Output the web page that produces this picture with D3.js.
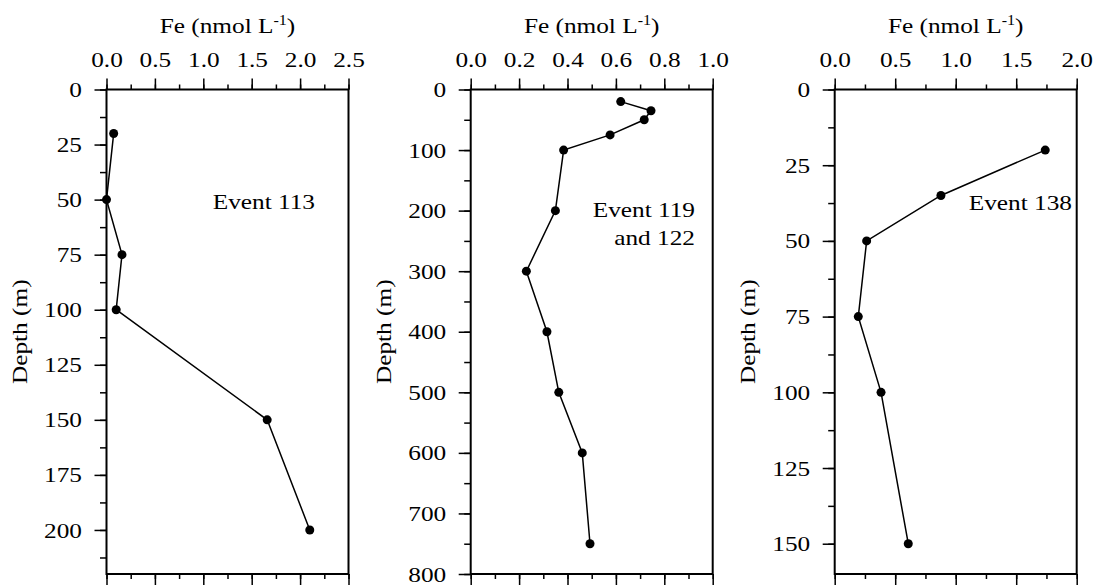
<!DOCTYPE html>
<html>
<head>
<meta charset="utf-8">
<script src="https://cdn.jsdelivr.net/npm/d3@7"></script>
<style>
  body { margin: 0; background: #fff; }
  svg { display: block; }
  text { font-family: "Liberation Serif", "Times New Roman", serif; fill: #000; }
  .tick line { stroke: #000; stroke-width: 1.5; }
</style>
</head>
<body>
<svg id="chart" width="1097" height="585"></svg>
<script>
// Event 113
var depth113 = [20, 50, 75, 100, 150, 200];
var fe113    = [0.074, 0.0, 0.16, 0.10, 1.66, 2.10];

// Event 119 and 122
var depth119 = [20, 35, 50, 75, 100, 200, 300, 400, 500, 600, 750];
var fe119    = [0.62, 0.745, 0.717, 0.576, 0.384, 0.35, 0.23, 0.315, 0.364, 0.461, 0.493];

// Event 138
var depth138 = [20, 35, 50, 75, 100, 150];
var fe138    = [1.74, 0.878, 0.264, 0.195, 0.383, 0.608];

var xTicks113 = [0, 0.5, 1.0, 1.5, 2.0, 2.5];
var yTicks113 = [0, 25, 50, 75, 100, 125, 150, 175, 200];
var xTicks119 = [0, 0.2, 0.4, 0.6, 0.8, 1.0];
var yTicks119 = [0, 100, 200, 300, 400, 500, 600, 700, 800];
var xTicks138 = [0, 0.5, 1.0, 1.5, 2.0];
var yTicks138 = [0, 25, 50, 75, 100, 125, 150];

var panels = [
  {fe: fe113, depth: depth113, xMax: 2.5, yMax: 220, xTicks: xTicks113, yTicks: yTicks113,
   xMinor: 0.25, yMinor: 12.5, left: 106.5, label: ["Event 113"], lx: 315, ly: 209},
  {fe: fe119, depth: depth119, xMax: 1.0, yMax: 800, xTicks: xTicks119, yTicks: yTicks119,
   xMinor: 0.1, yMinor: 50, left: 470.7, label: ["Event 119", "and 122"], lx: 695, ly: 217.5},
  {fe: fe138, depth: depth138, xMax: 2.0, yMax: 160, xTicks: xTicks138, yTicks: yTicks138,
   xMinor: 0.25, yMinor: 12.5, left: 834.7, label: ["Event 138"], lx: 1072, ly: 210}
];

var plotTop = 89.5, plotBottom = 574, plotWidth = 242;
var wide = 1.15; // the original lettering is a little wider than Liberation Serif

var svg = d3.select("#chart");

function steps(step, max) {
  var out = [];
  for (var i = 0; i * step <= max + 1e-9; i++) out.push(+(i * step).toFixed(4));
  return out;
}

// stretch a text horizontally around its own anchor x
function stretch(sel) {
  sel.each(function() {
    var t = d3.select(this), x0 = +t.attr("x") || 0;
    t.attr("transform", "translate(" + x0 + ",0) scale(" + wide + ",1) translate(" + (-x0) + ",0)");
  });
}

panels.forEach(function(p) {
  var h = plotBottom - plotTop;
  var x = d3.scaleLinear().domain([0, p.xMax]).range([0, plotWidth]);
  var y = d3.scaleLinear().domain([0, p.yMax]).range([0, h]);

  var g = svg.append("g").attr("transform", "translate(" + p.left + "," + plotTop + ")");

  // minor ticks first
  var xm = steps(p.xMinor, p.xMax), ym = steps(p.yMinor, p.yMax);
  g.append("g").call(d3.axisTop(x).tickValues(xm).tickSize(5).tickFormat(""));
  g.append("g").attr("transform", "translate(0," + h + ")")
    .call(d3.axisBottom(x).tickValues(xm).tickSize(5).tickFormat(""));
  g.append("g").call(d3.axisLeft(y).tickValues(ym).tickSize(6.5).tickFormat(""));

  // major ticks
  g.append("g")
    .call(d3.axisTop(x).tickValues(p.xTicks).tickSize(11).tickPadding(11.5)
      .tickFormat(d3.format(".1f")));
  g.append("g").attr("transform", "translate(0," + h + ")")
    .call(d3.axisBottom(x).tickValues(p.xTicks).tickSize(11).tickFormat(""));
  g.append("g")
    .call(d3.axisLeft(y).tickValues(p.yTicks).tickSize(12).tickPadding(12.5));

  g.selectAll(".domain").remove();
  g.selectAll(".tick text").style("font-size", "22px")
    .style("font-family", '"Liberation Serif", "Times New Roman", serif')
    .call(stretch);

  // frame
  g.append("rect")
    .attr("width", plotWidth).attr("height", h)
    .attr("fill", "none").attr("stroke", "#000").attr("stroke-width", 2);

  // profile line and points
  var pts = p.fe.map(function(v, i) { return [v, p.depth[i]]; });
  g.append("path")
    .datum(pts)
    .attr("fill", "none").attr("stroke", "#000").attr("stroke-width", 1.5)
    .attr("d", d3.line().x(function(d) { return x(d[0]); }).y(function(d) { return y(d[1]); }));
  g.selectAll("circle.pt").data(pts).enter().append("circle")
    .attr("class", "pt")
    .attr("cx", function(d) { return x(d[0]); })
    .attr("cy", function(d) { return y(d[1]); })
    .attr("r", 4.5).attr("fill", "#000");

  // x title
  var t = svg.append("text")
    .attr("x", p.left + plotWidth / 2).attr("y", 33)
    .attr("text-anchor", "middle").style("font-size", "22px");
  t.append("tspan").text("Fe (nmol L");
  t.append("tspan").attr("dy", -8).style("font-size", "14px").text("-1");
  t.append("tspan").attr("dy", 8).text(")");
  t.call(stretch);

  // y title
  svg.append("text")
    .attr("transform", "translate(" + (p.left - 80) + "," + ((plotTop + plotBottom) / 2) + ") rotate(-90) scale(" + wide + ",1)")
    .attr("text-anchor", "middle").style("font-size", "22px")
    .text("Depth (m)");

  // event label
  var ev = svg.append("text")
    .attr("x", p.lx).attr("y", p.ly)
    .attr("text-anchor", "end").style("font-size", "22px");
  p.label.forEach(function(s, i) {
    ev.append("tspan").attr("x", p.lx).attr("dy", i === 0 ? 0 : 27.5).text(s);
  });
  ev.call(stretch);
});
</script>
</body>
</html>
